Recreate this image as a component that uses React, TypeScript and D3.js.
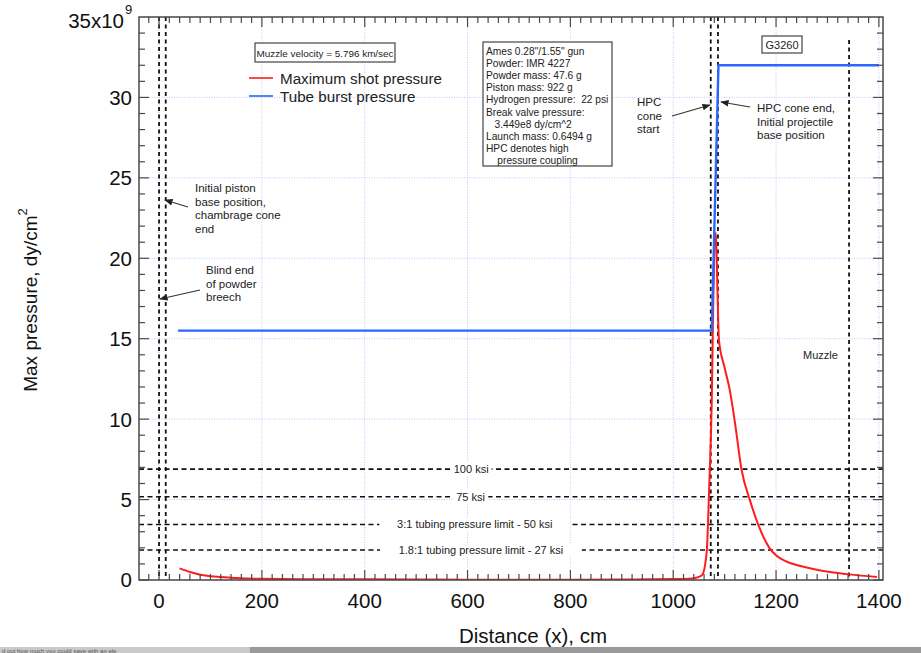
import React from 'react';
import * as d3 from 'd3';

// chart values (pressure in units of 1e9 dy/cm^2, distance in cm)
const distanceCm = [40, 60, 80, 100, 120, 150, 200, 300, 400, 500, 600, 700, 800, 900, 950, 1000, 1030, 1042, 1056, 1065, 1070, 1075, 1078, 1083, 1086, 1089, 1100, 1110, 1120, 1133, 1149, 1167, 1187, 1201, 1220, 1240, 1270, 1305, 1342, 1396];
const shotPressure = [0.72, 0.5, 0.32, 0.24, 0.19, 0.12, 0.07, 0.05, 0.04, 0.03, 0.02, 0.02, 0.02, 0.03, 0.04, 0.06, 0.08, 0.12, 0.3, 1.7, 5.8, 11.2, 17.4, 21.6, 18, 14.9, 13.2, 11.8, 9.8, 6.84, 4.98, 3.3, 2.0, 1.5, 1.15, 0.93, 0.7, 0.5, 0.35, 0.19];

const burstDistance = [37, 1075, 1088, 1400];
const burstPressure = [15.5, 15.5, 32, 32];

const xTicks = [0, 200, 400, 600, 800, 1000, 1200, 1400];
const yTicks = [0, 5, 10, 15, 20, 25, 30];

const ksiLevels = [6.895, 5.171, 3.447, 1.862];
const ksiLabels = ['100 ksi', '75 ksi', '3:1 tubing pressure limit - 50 ksi', '1.8:1 tubing pressure limit - 27 ksi'];
const ksiLabelAt = [607, 606, 614, 626];

const markerDistances = [0, 13, 1073, 1087, 1342];

const infoLines = [
  'Ames 0.28"/1.55" gun',
  'Powder: IMR 4227',
  'Powder mass: 47.6 g',
  'Piston mass: 922 g',
  'Hydrogen pressure:  22 psi',
  'Break valve pressure:',
  '   3.449e8 dy/cm^2',
  'Launch mass: 0.6494 g',
  'HPC denotes high',
  '    pressure coupling',
];

const FONT = '"Liberation Sans", Arial, Helvetica, sans-serif';
const W = 921;
const H = 653;
const L = 139, R = 883, T = 17, B = 580;

const x = d3.scaleLinear().domain([-39, 1408]).range([L, R]);
const y = d3.scaleLinear().domain([0, 35]).range([B, T]);

const redLine = d3.line<number>()
  .x((_, i) => x(distanceCm[i]))
  .y(d => y(d))
  .curve(d3.curveMonotoneX);
const blueLine = d3.line<number>()
  .x((_, i) => x(burstDistance[i]))
  .y(d => y(d));

const minorX = d3.range(-20, 1408, 20).filter(v => v % 200 !== 0);
const minorY = d3.range(1, 35, 1).filter(v => v % 5 !== 0);

const Arrow = ({ x1, y1, x2, y2 }: any) => (
  <line x1={x1} y1={y1} x2={x2} y2={y2} stroke="#333" strokeWidth={1.2} markerEnd="url(#ah)" />
);

const Lines = ({ x0, y0, lines, size = 11.5, step = 13.7 }: any) => (
  <text x={x0} y={y0} fontSize={size} fill="#222" fontFamily={FONT}>
    {lines.map((s: string, i: number) => (
      <tspan key={i} x={x0} dy={i === 0 ? 0 : step} style={{ whiteSpace: 'pre' }}>{s}</tspan>
    ))}
  </text>
);

export default function App() {
  return (
    <svg width={W} height={H} style={{ position: 'absolute', left: 0, top: 0, background: '#fff' }} fontFamily={FONT}>
      <defs>
        <clipPath id="plot"><rect x={L} y={T} width={R - L} height={B - T} /></clipPath>
        <marker id="ah" viewBox="0 0 10 10" refX="9" refY="5" markerWidth="7" markerHeight="7" orient="auto">
          <path d="M0,1 L10,5 L0,9 z" fill="#222" />
        </marker>
      </defs>
      <rect width={W} height={H} fill="#fff" />

      {/* grid */}
      <g stroke="#c4c4ff" strokeWidth={1} strokeDasharray="1,1.5">
        {xTicks.map(t => <line key={t} x1={x(t)} x2={x(t)} y1={T} y2={B} />)}
        {yTicks.concat([35]).map(t => <line key={t} x1={L} x2={R} y1={y(t)} y2={y(t)} />)}
      </g>

      {/* horizontal ksi limits */}
      <g>
        {ksiLevels.map((v, i) => (
          <line key={i} x1={L} x2={R} y1={y(v)} y2={y(v)} stroke="#111" strokeWidth={1.6} strokeDasharray="5,3.5" />
        ))}
        {ksiLevels.map((v, i) => {
          const w = ksiLabels[i].length * 5.55;
          return (
            <g key={'l' + i}>
              <rect x={x(ksiLabelAt[i]) - w / 2 - 1} y={y(v) - 7} width={w + 2} height={14} fill="#fff" />
              <text x={x(ksiLabelAt[i])} y={y(v)} dy="0.35em" textAnchor="middle" fontSize={11} fill="#222">{ksiLabels[i]}</text>
            </g>
          );
        })}
      </g>

      {/* vertical markers */}
      <g stroke="#111" strokeWidth={1.8} strokeDasharray="4,3.5">
        {markerDistances.map((d, i) => (
          <line key={i} x1={x(d)} x2={x(d)} y1={i === 4 ? 40 : T} y2={B} />
        ))}
      </g>

      {/* series */}
      <g clipPath="url(#plot)" fill="none">
        <path d={redLine(shotPressure) || ''} stroke="#ff1c1c" strokeWidth={2} />
        <path d={blueLine(burstPressure) || ''} stroke="#2a66ff" strokeWidth={2.4} />
      </g>

      {/* frame and ticks */}
      <rect x={L} y={T} width={R - L} height={B - T} fill="none" stroke="#4a4a4a" strokeWidth={1.5} />
      <g stroke="#4a4a4a" strokeWidth={1.2}>
        {xTicks.map(t => (
          <g key={t}>
            <line x1={x(t)} x2={x(t)} y1={B} y2={B - 10} />
            <line x1={x(t)} x2={x(t)} y1={T} y2={T + 10} />
          </g>
        ))}
        {minorX.map(t => (
          <g key={t}>
            <line x1={x(t)} x2={x(t)} y1={B} y2={B - 6} />
            <line x1={x(t)} x2={x(t)} y1={T} y2={T + 6} />
          </g>
        ))}
        {yTicks.map(t => (
          <g key={t}>
            <line x1={L} x2={L + 10} y1={y(t)} y2={y(t)} />
            <line x1={R} x2={R - 10} y1={y(t)} y2={y(t)} />
          </g>
        ))}
        {minorY.map(t => (
          <g key={t}>
            <line x1={L} x2={L + 6} y1={y(t)} y2={y(t)} />
            <line x1={R} x2={R - 6} y1={y(t)} y2={y(t)} />
          </g>
        ))}
      </g>

      {/* tick labels */}
      <g fontSize={20.5} fill="#111">
        {xTicks.map(t => (
          <text key={t} x={x(t)} y={608} textAnchor="middle">{t}</text>
        ))}
        {yTicks.map(t => (
          <text key={t} x={132} y={y(t)} dy="0.36em" textAnchor="end">{t}</text>
        ))}
        <text x={124} y={28} textAnchor="end">35x10</text>
        <text x={125} y={14} fontSize={13}>9</text>
      </g>

      {/* axis titles */}
      <text x={533} y={643} textAnchor="middle" fontSize={20.5} fill="#111">Distance (x), cm</text>
      <text transform="translate(37,300) rotate(-90)" textAnchor="middle" fontSize={19} fill="#111">
        Max pressure, dy/cm<tspan dy={-10} fontSize={13}>2</tspan>
      </text>

      {/* legend and boxes */}
      <rect x={255} y={43} width={140} height={19} fill="#fff" stroke="#444" strokeWidth={1.2} />
      <text x={325} y={56.5} textAnchor="middle" fontSize={9.9} fill="#222">Muzzle velocity = 5.796 km/sec</text>
      <line x1={249} x2={273} y1={78} y2={78} stroke="#ff1c1c" strokeWidth={1.6} />
      <line x1={249} x2={273} y1={96} y2={96} stroke="#2a66ff" strokeWidth={1.6} />
      <text x={280} y={83.5} fontSize={15.2} fill="#222">Maximum shot pressure</text>
      <text x={280} y={101.5} fontSize={15.2} fill="#222">Tube burst pressure</text>

      <rect x={483} y={42} width={129} height={124} fill="#fff" stroke="#444" strokeWidth={1.2} />
      <Lines x0={486} y0={54.5} lines={infoLines} size={10.2} step={12.2} />

      <rect x={762} y={36} width={40} height={17} fill="#fff" stroke="#444" strokeWidth={1.2} />
      <text x={782} y={48.5} textAnchor="middle" fontSize={11} fill="#222">G3260</text>

      {/* annotations */}
      <Lines x0={637} y0={106} lines={['HPC', 'cone', 'start']} size={11.5} step={13.7} />
      <Arrow x1={672} y1={116} x2={710} y2={105} />
      <Lines x0={757} y0={112} lines={['HPC cone end,', 'Initial projectile', 'base position']} size={11.5} step={13.7} />
      <Arrow x1={750} y1={107} x2={721} y2={102} />
      <Lines x0={195} y0={192} lines={['Initial piston', 'base position,', 'chambrage cone', 'end']} size={11.5} step={13.7} />
      <Arrow x1={188} y1={207} x2={165} y2={200} />
      <Lines x0={206} y0={274} lines={['Blind end', 'of powder', 'breech']} size={11.5} step={13.7} />
      <Arrow x1={200} y1={290} x2={160} y2={299} />
      <text x={803} y={359} fontSize={11} fill="#222">Muzzle</text>

      {/* bottom screenshot strip */}
      <rect x={0} y={647} width={W} height={6} fill="#9a9a9a" />
      <rect x={0} y={647} width={250} height={6} fill="#c9c9c9" />
      <text x={2} y={652.5} fontSize={6} fill="#555">d out how much you could save with an ele</text>
    </svg>
  );
}
